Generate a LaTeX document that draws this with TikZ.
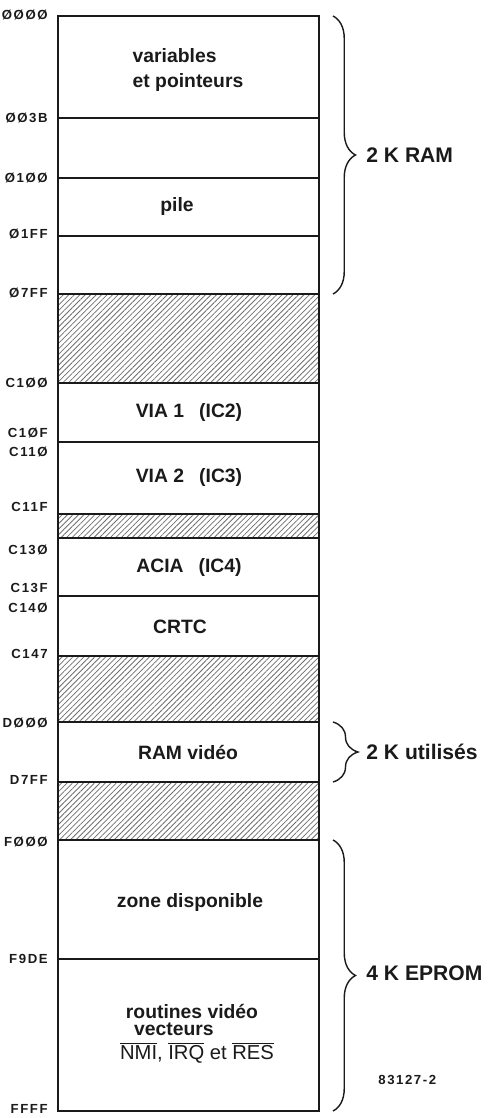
\documentclass[tikz,border=0pt]{standalone}
\usepackage{fontspec}
\setmainfont{Liberation Sans}
\newfontfamily\addrfont{Liberation Sans}[LetterSpace=12]
\usetikzlibrary{patterns.meta,decorations.pathreplacing}
\definecolor{MapInk}{HTML}{1A1A1A}
\definecolor{MapHatch}{HTML}{6E6E6E}

\begin{document}
\begin{tikzpicture}[x=0.02cm,y=-0.02cm,
  addr/.style={anchor=east,inner sep=0pt,text=MapInk,font=\addrfont\bfseries\fontsize{7.5}{8}\selectfont},
  area/.style={text=MapInk,inner sep=0pt,font=\bfseries\fontsize{11}{14}\selectfont},
  span/.style={anchor=west,inner sep=0pt,text=MapInk,font=\bfseries\fontsize{12}{14}\selectfont},
  hatch/.style={pattern={Lines[angle=45,distance=2.2pt,line width=.45pt]},pattern color=MapHatch},
  divider/.style={MapInk,line width=.6pt},
  bracegap/.style={MapInk,line width=.8pt,decorate,decoration={brace,amplitude=#1}}]
\path[use as bounding box] (0,0) rectangle (488,1118);
% unused address ranges
\fill[hatch] (58,294) rectangle (319,383);
\fill[hatch] (58,514) rectangle (319,538);
\fill[hatch] (58,656) rectangle (319,722);
\fill[hatch] (58,782) rectangle (319,840);
% boundaries
\draw[divider] (58,118) -- (319,118);
\draw[divider] (58,178) -- (319,178);
\draw[divider] (58,236) -- (319,236);
\draw[divider] (58,294) -- (319,294);
\draw[divider] (58,383) -- (319,383);
\draw[divider] (58,442) -- (319,442);
\draw[divider] (58,514) -- (319,514);
\draw[divider] (58,538) -- (319,538);
\draw[divider] (58,596) -- (319,596);
\draw[divider] (58,656) -- (319,656);
\draw[divider] (58,722) -- (319,722);
\draw[divider] (58,782) -- (319,782);
\draw[divider] (58,840) -- (319,840);
\draw[divider] (58,959) -- (319,959);
\draw[MapInk,line width=1.1pt] (58,16) rectangle (319,1111);
% addresses
\node[addr] (a0000) at (48,15) {ØØØØ};
\node[addr] (a003B) at (48,118) {ØØ3B};
\node[addr] (a0100) at (48,178) {Ø1ØØ};
\node[addr] (a01FF) at (48,234) {Ø1FF};
\node[addr] (a07FF) at (48,293) {Ø7FF};
\node[addr] (aC100) at (48,383) {C1ØØ};
\node[addr] (aC10F) at (48,433) {C1ØF};
\node[addr] (aC110) at (48,452) {C11Ø};
\node[addr] (aC11F) at (48,507) {C11F};
\node[addr] (aC130) at (48,550) {C13Ø};
\node[addr] (aC13F) at (48,588) {C13F};
\node[addr] (aC140) at (48,608) {C14Ø};
\node[addr] (aC147) at (48,654) {C147};
\node[addr] (aD000) at (48,723) {DØØØ};
\node[addr] (aD7FF) at (48,780) {D7FF};
\node[addr] (aF000) at (48,842) {FØØØ};
\node[addr] (aF9DE) at (48,959) {F9DE};
\node[addr] (aFFFF) at (48,1109) {FFFF};
% contents
\node[area,align=left] (vars) at (188,70) {variables\\et pointeurs};
\node[area] (pile) at (177,207) {pile};
\node[area] (via1) at (189,413) {VIA 1\enspace\ (IC2)};
\node[area] (via2) at (189,478) {VIA 2\enspace\ (IC3)};
\node[area] (acia) at (189,567) {ACIA\enspace\ (IC4)};
\node[area] (crtc) at (180,627) {CRTC};
\node[area] (ramvid) at (188,752) {RAM vidéo};
\node[area] (zone) at (190,902) {zone disponible};
\node[area] (rout) at (192,1011) {routines vidéo};
\node[area] (vect) at (174,1029) {vecteurs};
\node[area,font=\fontsize{11.5}{14}\selectfont] (nmi) at (197,1053) {$\overline{\mbox{NMI}}$, $\overline{\mbox{IRQ}}$ et $\overline{\mbox{RES}}$};
% spans
\coordinate (ramtop) at (333,16);
\coordinate (rambot) at (333,294);
\coordinate (vidtop) at (333,722);
\coordinate (vidbot) at (333,782);
\coordinate (romtop) at (333,840);
\coordinate (rombot) at (333,1111);
\draw[bracegap=.45cm] (ramtop) -- (rambot);
\draw[bracegap=.5cm] (vidtop) -- (vidbot);
\draw[bracegap=.45cm] (romtop) -- (rombot);
\node[span] (ram) at (366,155) {2 K RAM};
\node[span] (used) at (366,752) {2 K utilisés};
\node[span] (eprom) at (366,973) {4 K EPROM};
\node[addr,anchor=west] (fig) at (378,1080) {83127-2};
\end{tikzpicture}
\end{document}
